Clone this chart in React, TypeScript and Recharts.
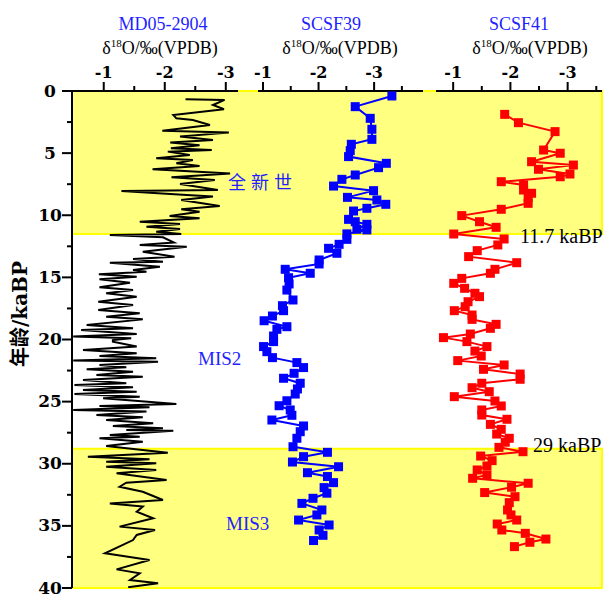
import { ComposedChart, Line, Scatter, XAxis, YAxis, ReferenceArea } from 'recharts';

// chart box, pixel frame of the plot
const W = 611;
const H = 595;
const TOP = 91;
const BOTTOM = 588;
const LEFT = 72;
const RIGHT = 602;
const AXIS_H = 30;

const BLUE = '#1f1fff';
const SERIF = '"Liberation Serif", "Times New Roman", serif';
const BOLD_SERIF = '"DejaVu Serif", serif';
const CJK = '"Noto Sans CJK SC", sans-serif';

// age axis (kaBP)
const ageTicks = [0, 2.5, 5, 7.5, 10, 12.5, 15, 17.5, 20, 22.5, 25, 27.5, 30, 32.5, 35, 37.5, 40];
const holoceneBand = [0, 11.5];
const mis3Band = [28.8, 40];

// MD05-2904
const md05Age = [
  0.67, 0.72, 1.13, 1.47, 1.93, 2.2, 2.33, 2.74, 3.19, 3.35, 3.67, 3.94, 4.15, 4.37, 4.61, 4.75, 4.88,
  5.15, 5.42, 5.55, 5.82, 6.04, 6.3, 6.63, 6.95, 7.16, 7.48, 7.97, 8.05, 8.37, 8.5, 8.77, 9.26, 9.52,
  9.71, 10.06, 10.25, 10.52, 10.7, 10.92, 11.1, 11.32, 11.5, 11.59, 11.77, 12.2, 12.4, 12.53, 12.93,
  13.34, 13.52, 13.74, 13.82, 14.14, 14.4, 14.54, 14.75, 14.94, 15.16, 15.43, 15.8, 16.02, 16.28,
  16.56, 16.96, 17.22, 17.63, 17.89, 18.16, 18.38, 18.83, 19.1, 19.24, 19.55, 19.75, 19.9, 20.05,
  20.17, 20.57, 20.84, 21.1, 21.33, 21.51, 21.7, 21.79, 22.05, 22.24, 22.4, 22.59, 22.86, 23.0, 23.26,
  23.52, 23.66, 23.85, 24.06, 24.2, 24.39, 24.6, 24.73, 25.19, 25.35, 25.46, 25.67, 25.8, 26.07, 26.26,
  26.48, 26.75, 26.96, 27.15, 27.28, 27.35, 27.69, 27.82, 27.95, 28.22, 28.57, 29.11, 29.43, 29.64,
  29.83, 29.96, 30.24, 30.5, 30.77, 31.31, 31.52, 31.85, 32.25, 32.92, 33.19, 33.45, 33.86, 34.39,
  35.06, 35.33, 35.73, 36.14, 37.21, 37.75, 38.5, 38.82, 39.36, 39.62, 39.94,
];
const md05Val = [
  -2.34, -2.98, -2.79, -2.97, -2.14, -2.19, -2.46, -2.74, -1.96, -3.05, -2.25, -2.79, -2.09, -2.57, -2.1, -2.77, -2.05,
  -2.41, -1.86, -2.46, -2.19, -2.57, -1.8, -3.07, -2.11, -2.82, -2.25, -2.87, -1.29, -2.36, -2.79, -2.27, -2.9, -2.27,
  -2.57, -2.08, -2.57, -1.59, -2.25, -1.7, -2.25, -1.86, -2.27, -1.1, -1.97, -2.15, -1.59, -2.36, -1.64,
  -2.16, -1.48, -1.97, -1.1, -1.92, -1.48, -1.7, -0.92, -1.54, -0.93, -1.43, -0.93, -1.48, -1.04,
  -1.54, -0.91, -1.48, -0.91, -1.59, -1.04, -1.64, -0.72, -1.48, -0.63, -1.54, -0.5, -1.45, -1.15,
  -1.15, -1.54, -0.66, -1.54, -0.93, -1.86, -0.5, -1.89, -0.93, -1.37, -0.72, -1.48, -0.88, -1.64, -0.66,
  -1.37, -0.52, -1.48, -0.66, -1.54, -0.52, -1.59, -0.99, -2.19, -0.93, -1.75, -0.5, -1.7, -0.88, -1.64,
  -1.04, -1.81, -1.15, -1.97, -1.37, -2.14, -1.1, -1.59, -0.93, -1.64, -1.04, -2.05, -0.74, -1.75,
  -1.04, -1.86, -1.04, -1.86, -1.21, -2.03, -1.37, -1.26, -1.64, -1.97, -1.1, -1.64, -1.54, -1.81,
  -1.26, -1.84, -1.54, -1.48, -1.02, -1.75, -1.21, -1.59, -1.43, -1.89, -1.4,
];

// SCSF39
const scsf39Age = [
  0.4, 1.26, 2.2, 3.08, 3.89, 4.29, 4.8, 5.28, 5.82, 6.17, 6.76, 7.11, 7.65, 8.02, 8.56, 8.77, 9.12,
  9.44, 9.66, 10.33, 10.52, 10.73, 11.13, 11.18, 11.5, 11.94, 12.34, 12.66, 13.06, 13.6, 13.92, 14.35,
  14.67, 15.03, 15.53, 16.02, 16.82, 17.28, 17.68, 18.11, 18.49, 18.97, 19.18, 19.72, 20.17, 20.57,
  20.98, 21.46, 21.86, 22.26, 22.72, 23.12, 23.52, 23.98, 24.39, 24.93, 25.33, 25.67, 26.1, 26.48,
  26.96, 27.42, 27.95, 28.63, 29.08, 29.43, 29.86, 30.24, 30.72, 31.03, 31.52, 31.92, 32.37, 32.78,
  33.19, 33.72, 34.12, 34.53, 34.93, 35.33, 35.76, 36.18,
];
const scsf39Val = [
  -3.32, -2.66, -2.93, -2.96, -2.96, -2.59, -2.57, -2.54, -3.22, -3.08, -2.66, -2.42, -2.27, -2.99, -2.52, -3.05, -3.21,
  -2.87, -2.63, -2.54, -2.66, -2.87, -2.69, -2.87, -2.51, -2.51, -2.37, -2.18, -2.33, -2.01, -2.01, -1.4,
  -1.85, -1.46, -1.47, -1.43, -1.54, -1.35, -1.37, -1.17, -1.02, -1.43, -1.25, -1.19, -1.19, -1.01,
  -1.07, -1.17, -1.61, -1.73, -1.56, -1.37, -1.67, -1.62, -1.58, -1.43, -1.29, -1.49, -1.52, -1.16,
  -1.73, -1.67, -1.61, -1.54, -2.16, -1.73, -1.53, -2.36, -1.8, -2.16, -2.27, -2.1, -2.15, -1.9,
  -1.7, -2.06, -1.97, -1.64, -2.19, -2.01, -2.08, -1.91,
];

// SCSF41
const scsf41Age = [
  1.88, 2.55, 3.27, 4.75, 5.01, 5.69, 5.96, 6.3, 6.68, 6.9, 7.3, 7.56, 7.97, 8.23, 8.58, 9.04, 9.52,
  10.03, 10.52, 10.97, 11.51, 11.91, 12.39, 12.85, 13.33, 13.82, 14.35, 14.67, 15.08, 15.48, 15.88,
  16.28, 16.55, 16.96, 17.36, 17.68, 18.03, 18.38, 18.78, 19.1, 19.56, 19.85, 20.17, 20.57, 20.93,
  21.33, 21.7, 22.05, 22.4, 22.78, 23.2, 23.52, 23.88, 24.2, 24.6, 24.95, 25.35, 25.67, 26.08, 26.42,
  26.83, 27.23, 27.61, 27.95, 28.27, 28.68, 29.03, 29.38, 29.75, 30.18, 30.5, 30.9, 31.17, 31.57,
  31.89, 32.32, 32.65, 33.13, 33.72, 34.12, 34.53, 34.85, 35.33, 35.6, 36.06, 36.32, 36.67,
];
const scsf41Val = [
  -1.9, -2.14, -2.78, -2.58, -2.87, -2.37, -3.1, -2.49, -3.04, -2.87, -1.84, -2.23, -2.23, -2.37, -2.31, -2.31, -1.84,
  -1.15, -1.46, -1.75, -1.01, -1.89, -1.78, -1.42, -1.27, -2.11, -1.73, -1.65, -1.15, -1.01, -1.2,
  -1.38, -1.46, -1.26, -1.21, -1.02, -1.33, -1.33, -1.75, -1.65, -1.3, -0.83, -1.24, -1.59, -1.38,
  -1.49, -1.08, -1.89, -1.53, -2.17, -2.17, -1.5, -1.33, -1.63, -1.02, -1.73, -1.84, -1.5, -1.5, -1.94,
  -1.65, -1.84, -1.76, -1.98, -1.91, -1.8, -2.22, -1.48, -1.68, -1.59, -1.42, -1.59, -1.34, -2.31,
  -2.02, -1.55, -2.08, -1.98, -1.95, -2.01, -2.11, -1.77, -1.85, -2.26, -2.62, -2.34, -2.07,
];

const toRows = (ages: number[], vals: number[]) => ages.map((a, i) => ({ age: a, v: vals[i] }));

const AgeTick = ({ y, payload }: any) => {
  const major = payload.value % 5 === 0;
  return (
    <g>
      <line x1={LEFT} x2={LEFT - (major ? 10 : 5)} y1={y} y2={y} stroke="#000" strokeWidth={2} />
      {major && (
        <text x={50} y={y} dy="0.33em" textAnchor="middle" fontFamily={BOLD_SERIF} fontWeight="bold" fontSize={17} fill="#000">
          {payload.value}
        </text>
      )}
    </g>
  );
};

const IsoTick = ({ x, payload }: any) => {
  const major = Number.isInteger(payload.value);
  return (
    <g>
      <line x1={x} x2={x} y1={TOP} y2={TOP - (major ? 9 : 5)} stroke="#000" strokeWidth={2} />
      {major && (
        <text x={x} y={TOP - 13} textAnchor="middle" fontFamily={BOLD_SERIF} fontWeight="bold" fontSize={16} fill="#000">
          {payload.value}
        </text>
      )}
    </g>
  );
};

const square = (color: string) => (props: any) =>
  <rect x={props.cx - 4.5} y={props.cy - 4.5} width={9} height={9} fill={color} />;

function Panel({ left, right, domain, ticks, rows, color, markers, withAgeAxis }: any) {
  // the yellow bands run across all three panels: extend them from this panel's
  // left edge to the figure's right edge, in this panel's own x units
  const span = domain[1] - domain[0];
  const bandEnd = domain[1] - ((RIGHT - left) / (right - left)) * span;
  return (
    <div style={{ position: 'absolute', left: 0, top: 0 }}>
      <ComposedChart
        width={W}
        height={H}
        data={rows}
        margin={{ top: TOP - AXIS_H, right: W - right, bottom: H - BOTTOM, left: withAgeAxis ? 0 : left }}
      >
        {withAgeAxis && (
          <ReferenceArea x1={domain[1]} x2={bandEnd} y1={holoceneBand[0]} y2={holoceneBand[1]} ifOverflow="visible"
            fill="#ffff80" fillOpacity={1} stroke="#ffff00" strokeWidth={2} />
        )}
        {withAgeAxis && (
          <ReferenceArea x1={domain[1]} x2={bandEnd} y1={mis3Band[0]} y2={mis3Band[1]} ifOverflow="visible"
            fill="#ffff80" fillOpacity={1} stroke="#ffff00" strokeWidth={2} />
        )}
        <XAxis
          type="number"
          dataKey="v"
          orientation="top"
          height={AXIS_H}
          domain={domain}
          allowDataOverflow
          reversed
          ticks={ticks}
          interval={0}
          tickLine={false}
          tickSize={0}
          tick={<IsoTick />}
          axisLine={{ stroke: '#000', strokeWidth: 2 }}
        />
        {withAgeAxis ? (
          <YAxis
            type="number"
            dataKey="age"
            domain={[0, 40]}
            allowDataOverflow
            reversed
            width={left}
            ticks={ageTicks}
            interval={0}
            tickLine={false}
            tickSize={0}
            tick={<AgeTick />}
            axisLine={{ stroke: '#000', strokeWidth: 2 }}
          />
        ) : (
          <YAxis type="number" dataKey="age" domain={[0, 40]} allowDataOverflow reversed hide />
        )}
        {markers ? (
          <Scatter
            data={rows}
            fill={color}
            line={{ stroke: color, strokeWidth: 2 }}
            lineType="joint"
            shape={square(color)}
            isAnimationActive={false}
          />
        ) : (
          <Line dataKey="age" stroke={color} strokeWidth={2} dot={false} type="linear" isAnimationActive={false} />
        )}
      </ComposedChart>
    </div>
  );
}

const Delta = ({ x }: { x: number }) => (
  <text x={x} y={54} textAnchor="middle" fontFamily={SERIF} fontSize={18} fill="#000">
    δ<tspan dy={-7} fontSize={11}>18</tspan>
    <tspan dy={7}>O/‰(VPDB)</tspan>
  </text>
);

export default function App() {
  return (
    <div style={{ position: 'absolute', left: 0, top: 0, width: W, height: H, background: '#fff' }}>
      <Panel left={LEFT} right={238} domain={[-3.2, -0.48]} ticks={[-3, -2.5, -2, -1.5, -1]} rows={toRows(md05Age, md05Val)} color="#000" markers={false} withAgeAxis />
      <Panel left={258} right={423} domain={[-3.88, -0.91]} ticks={[-3.5, -3, -2.5, -2, -1.5, -1]} rows={toRows(scsf39Age, scsf39Val)} color="#0000ff" markers />
      <Panel left={436} right={RIGHT} domain={[-3.6, -0.7]} ticks={[-3.5, -3, -2.5, -2, -1.5, -1]} rows={toRows(scsf41Age, scsf41Val)} color="#ff0000" markers />

      {/* titles and notes */}
      <svg width={W} height={H} style={{ position: 'absolute', left: 0, top: 0 }}>
        <text x={163} y={30} textAnchor="middle" fontFamily={SERIF} fontSize={18} fill={BLUE}>MD05-2904</text>
        <text x={331} y={30} textAnchor="middle" fontFamily={SERIF} fontSize={18} fill={BLUE}>SCSF39</text>
        <text x={519} y={30} textAnchor="middle" fontFamily={SERIF} fontSize={18} fill={BLUE}>SCSF41</text>
        <Delta x={160} />
        <Delta x={340} />
        <Delta x={530} />

        <text x={228} y={189} fontFamily={CJK} fontSize={18} letterSpacing={5} fill={BLUE}>全新世</text>
        <text x={198} y={365} fontFamily={SERIF} fontSize={19} fill={BLUE}>MIS2</text>
        <text x={226} y={530} fontFamily={SERIF} fontSize={19} fill={BLUE}>MIS3</text>
        <text x={520} y={243} fontFamily={SERIF} fontSize={20} fill="#000">11.7 kaBP</text>
        <text x={533} y={452} fontFamily={SERIF} fontSize={20} fill="#000">29 kaBP</text>

        <text transform="translate(20,314) rotate(-90)" textAnchor="middle" dy="0.35em" fontWeight="bold" fontSize={20} fill="#000">
          <tspan fontFamily={CJK}>年龄</tspan>
          <tspan fontFamily={BOLD_SERIF}>/kaBP</tspan>
        </text>
      </svg>
    </div>
  );
}
